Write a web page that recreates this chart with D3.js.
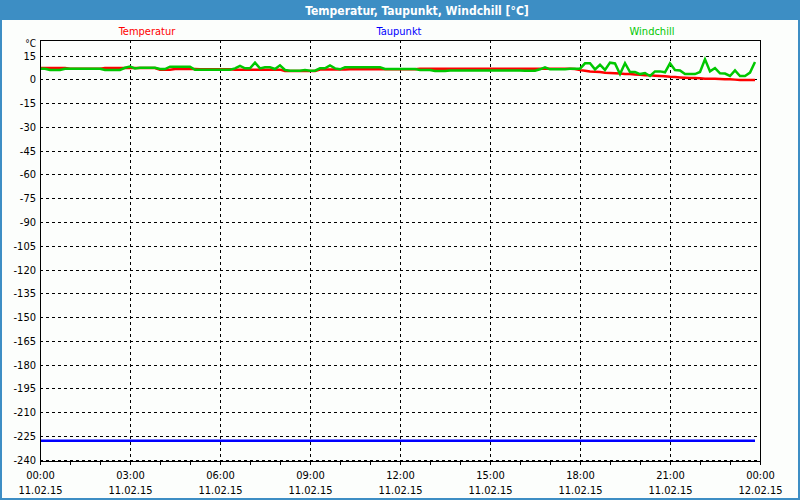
<!DOCTYPE html>
<html>
<head>
<meta charset="utf-8">
<script src="https://cdn.jsdelivr.net/npm/d3@7"></script>
<style>
  html, body { margin: 0; padding: 0; background: #fcfefc; }
  svg { display: block; }
  text { font-family: "DejaVu Sans Condensed", "Liberation Sans", sans-serif; }
</style>
</head>
<body>
<svg id="chart" width="800" height="500"></svg>
<script>
// ---- data (10-minute readings, 11.02.15 00:00 .. 23:50) ----
const chartTitle = "Temperatur, Taupunkt, Windchill [°C]";
const seriesNames = ["Temperatur", "Taupunkt", "Windchill"];
const seriesColors = ["#ff0000", "#0000ff", "#00c800"];
const startTime = new Date(2015, 1, 11, 0, 0);
const endTime = new Date(2015, 1, 12, 0, 0);
const stepMinutes = 10;
const yTicks = [15, 0, -15, -30, -45, -60, -75, -90, -105, -120, -135, -150, -165, -180, -195, -210, -225, -240];
const xTickHours = [0, 3, 6, 9, 12, 15, 18, 21, 24];
const xTickDates = ["11.02.15", "11.02.15", "11.02.15", "11.02.15", "11.02.15", "11.02.15", "11.02.15", "11.02.15", "12.02.15"];
const yUnit = "°C";

const temperatur = [
  7.2, 7.2, 7.2, 7.2, 7.2, 7.2,
  6.7, 6.7, 6.7, 6.7, 6.7, 6.7, 6.7,
  7.1, 7.1, 7.1, 7.1, 7.1, 7.1, 7.1, 7.1, 7.1, 7.1, 7.1,
  6.0, 6.0, 6.0,
  6.5, 6.5, 6.5, 6.5, 6.5,
  6.3, 6.3, 6.3, 6.3, 6.3, 6.3, 6.3,
  6.1, 6.1, 6.1, 6.1, 6.1, 6.1, 6.1, 6.1, 6.1, 6.1,
  5.2, 5.2, 5.2, 5.2, 5.2, 5.2, 5.2,
  6.2, 6.2, 6.2, 6.2, 6.2, 6.2,
  6.3, 6.3, 6.3, 6.3, 6.3, 6.3, 6.3, 6.3, 6.3, 6.3, 6.3, 6.3, 6.3, 6.3,
  6.7, 6.7, 6.7, 6.7, 6.7, 6.7, 6.7, 6.7, 6.7, 6.7, 6.7, 6.7, 6.7, 6.7, 6.7, 6.7,
  6.7, 6.7, 6.7, 6.7, 6.7, 6.7, 6.7, 6.7, 6.7, 6.7, 6.7, 6.7, 6.7, 6.7, 6.7,
  6.5, 5.8, 5.4, 5.0, 4.8, 4.6, 4.2, 4.0, 3.8, 3.6, 3.3, 3.3, 3.0,
  2.8, 2.5, 2.5, 2.3, 2.1, 1.9, 1.6, 1.4, 1.2, 1.0, 0.8, 0.8,
  0.6, 0.4, 0.4, 0.4, 0.2, 0.0, 0.0, -0.2, -0.4, -0.4, -0.4, -0.4
];

const taupunkt = [
  -228, -228, -228, -228, -228, -228, -228, -228, -228, -228, -228, -228,
  -228, -228, -228, -228, -228, -228, -228, -228, -228, -228, -228, -228,
  -228, -228, -228, -228, -228, -228, -228, -228, -228, -228, -228, -228,
  -228, -228, -228, -228, -228, -228, -228, -228, -228, -228, -228, -228,
  -228, -228, -228, -228, -228, -228, -228, -228, -228, -228, -228, -228,
  -228, -228, -228, -228, -228, -228, -228, -228, -228, -228, -228, -228,
  -228, -228, -228, -228, -228, -228, -228, -228, -228, -228, -228, -228,
  -228, -228, -228, -228, -228, -228, -228, -228, -228, -228, -228, -228,
  -228, -228, -228, -228, -228, -228, -228, -228, -228, -228, -228, -228,
  -228, -228, -228, -228, -228, -228, -228, -228, -228, -228, -228, -228,
  -228, -228, -228, -228, -228, -228, -228, -228, -228, -228, -228, -228,
  -228, -228, -228, -228, -228, -228, -228, -228, -228, -228, -228, -228
];

const windchill = [
  6.7, 6.7, 5.9, 5.9, 5.9,
  6.7, 6.7, 6.7, 6.7, 6.7, 6.7, 6.7, 6.7,
  5.9, 5.9, 5.9, 5.9,
  7.3, 8.0, 6.9, 7.3, 7.3, 7.3, 7.3,
  6.5, 6.5,
  8.0, 8.0, 8.0, 8.0, 8.0,
  6.0, 6.0, 6.0, 6.0, 6.0, 6.0, 6.0, 6.0,
  6.9, 8.4, 6.9, 6.9, 10.5, 6.9, 7.6, 7.6, 6.5, 8.8, 5.9,
  5.4, 5.4, 5.4, 5.9, 5.4, 5.4,
  6.9, 6.9, 8.8, 6.9, 6.3,
  7.6, 7.6, 7.6, 7.6, 7.6, 7.6, 7.6, 7.6,
  6.5, 6.5, 6.5, 6.5, 6.5, 6.5, 6.5,
  5.9, 5.9, 5.9,
  5.2, 5.2, 5.2,
  5.6, 5.6, 5.6, 5.6, 5.6, 5.6, 5.6, 5.6, 5.6, 5.6, 5.6, 5.6, 5.6, 5.6, 5.6,
  5.4, 5.4, 5.4,
  6.3, 7.6, 6.3, 6.3, 6.3, 6.3,
  6.7, 6.7, 6.7,
  10.1, 10.1, 6.3, 9.2, 5.9, 10.5, 10.0, 3.3, 10.2, 4.6, 4.6,
  3.3, 4.0, 2.1, 5.0, 5.0, 4.4, 10.1, 5.9, 5.6, 3.3, 3.3, 3.3,
  4.6, 12.6, 5.0, 7.1, 3.8, 3.6, 2.1, 5.6, 2.1, 2.1, 4.2, 10.9
];

// ---- layout ----
const W = 800, H = 500;
const plot = { left: 40, top: 40, right: 760, bottom: 461 };
const svg = d3.select("#chart");

// window frame
svg.append("rect").attr("x", 0).attr("y", 0).attr("width", W).attr("height", H).attr("fill", "#3d8ec4");
svg.append("rect").attr("x", 2).attr("y", 20).attr("width", W - 4).attr("height", H - 22).attr("fill", "#fcfefc");

svg.append("text")
  .attr("x", 417).attr("y", 15)
  .attr("text-anchor", "middle")
  .attr("fill", "#ffffff")
  .attr("font-weight", "bold")
  .attr("font-size", "12px")
  .text(chartTitle);

// legend
const legendX = [147, 399, 652];
seriesNames.forEach((n, i) => {
  svg.append("text")
    .attr("x", legendX[i]).attr("y", 35)
    .attr("text-anchor", "middle")
    .attr("font-size", "11px")
    .attr("fill", seriesColors[i])
    .text(n);
});

// scales
const x = d3.scaleTime().domain([startTime, endTime]).range([plot.left, plot.right]);
const y = d3.scaleLinear().domain([-240.8, 24.8]).range([plot.bottom, plot.top]);
const timeAt = i => new Date(startTime.getTime() + i * stepMinutes * 60000);

// grid
const g = svg.append("g");
yTicks.forEach(v => {
  const yy = Math.round(y(v)) + 0.5;
  g.append("line")
    .attr("x1", plot.left).attr("x2", plot.right)
    .attr("y1", yy).attr("y2", yy)
    .attr("stroke", "#000").attr("stroke-width", 1)
    .attr("stroke-dasharray", "3,3");
  svg.append("text")
    .attr("x", 36).attr("y", yy).attr("dy", "0.35em")
    .attr("text-anchor", "end").attr("font-size", "11px").attr("fill", "#000")
    .text(v);
});
xTickHours.forEach((h, i) => {
  const t = new Date(startTime.getTime() + h * 3600000);
  const xx = Math.round(x(t)) + 0.5;
  if (h > 0 && h < 24) {
    g.append("line")
      .attr("x1", xx).attr("x2", xx)
      .attr("y1", plot.top).attr("y2", plot.bottom)
      .attr("stroke", "#000").attr("stroke-width", 1)
      .attr("stroke-dasharray", "3,3");
  }
  svg.append("text")
    .attr("x", xx).attr("y", 479)
    .attr("text-anchor", "middle").attr("font-size", "11px").attr("fill", "#000")
    .text(d3.timeFormat("%H:%M")(t));
  svg.append("text")
    .attr("x", xx).attr("y", 494)
    .attr("text-anchor", "middle").attr("font-size", "11px").attr("fill", "#000")
    .text(xTickDates[i]);
});

// hourly ticks below the bottom axis
const hourTicks = d3.timeHour.range(startTime, d3.timeHour.offset(endTime, 1));
hourTicks.forEach(t => {
  const xx = Math.round(x(t)) + 0.5;
  svg.append("line")
    .attr("x1", xx).attr("x2", xx)
    .attr("y1", plot.bottom).attr("y2", plot.bottom + 4)
    .attr("stroke", "#000").attr("stroke-width", 1);
});

// unit label
svg.append("text")
  .attr("x", 36).attr("y", 47)
  .attr("text-anchor", "end").attr("font-size", "10px").attr("fill", "#000")
  .text(yUnit);

// series
const line = d3.line()
  .x((d, i) => x(timeAt(i)))
  .y(d => y(d));

const seriesData = [temperatur, taupunkt, windchill];
[1, 0, 2].forEach(k => {
  svg.append("path")
    .datum(seriesData[k])
    .attr("d", line)
    .attr("fill", "none")
    .attr("stroke", seriesColors[k])
    .attr("stroke-width", 2.5)
    .attr("stroke-linejoin", "miter");
});

// frame
svg.append("rect")
  .attr("x", plot.left + 0.5).attr("y", plot.top + 0.5)
  .attr("width", plot.right - plot.left).attr("height", plot.bottom - plot.top)
  .attr("fill", "none").attr("stroke", "#000").attr("stroke-width", 1);
</script>
</body>
</html>
